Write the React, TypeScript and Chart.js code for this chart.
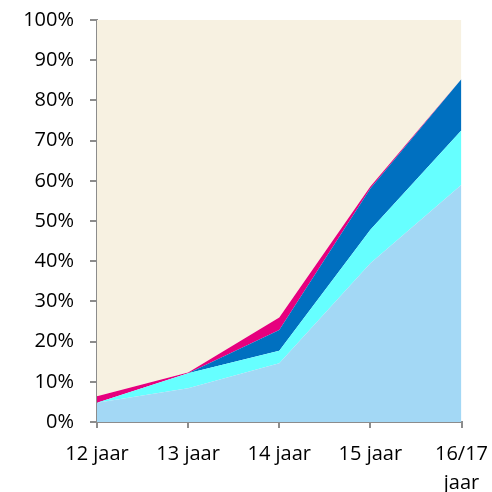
import React, { useEffect, useRef } from "react";
import { Chart, registerables } from "chart.js";

Chart.register(...registerables);

const categories: (string | string[])[] = ["12 jaar", "13 jaar", "14 jaar", "15 jaar", ["16/17", "jaar"]];
const lichtblauw = [4.8, 8.4, 14.6, 39.5, 59.0];
const cyaan = [0.0, 3.7, 3.1, 8.3, 13.6];
const donkerblauw = [0.0, 0.0, 5.2, 10.3, 12.7];
const roze = [1.6, 0.2, 3.1, 0.5, 0.0];
const rest = categories.map((_, i) =>
  +(100 - lichtblauw[i] - cyaan[i] - donkerblauw[i] - roze[i]).toFixed(1)
);
const yTicks = [0, 10, 20, 30, 40, 50, 60, 70, 80, 90, 100];

const seriesColors = ["#A3D8F5", "#66FFFF", "#0070C0", "#E6007E", "#F7F1E1"];

export default function App() {
  const ref = useRef<HTMLCanvasElement | null>(null);
  useEffect(() => {
    if (!ref.current) return;
    const all = [lichtblauw, cyaan, donkerblauw, roze, rest];
    const font = { family: "Open Sans", size: 20, lineHeight: 1.45 };
    const chart = new Chart(ref.current, {
      type: "line",
      data: {
        labels: categories,
        datasets: all.map((d, i) => ({
          data: d,
          backgroundColor: seriesColors[i],
          borderColor: seriesColors[i],
          borderWidth: 0,
          pointRadius: 0,
          fill: i === 0 ? "origin" : "-1",
          tension: 0,
        })),
      },
      options: {
        animation: false,
        responsive: false,
        maintainAspectRatio: false,
        layout: { padding: { top: 20, right: 30.5, bottom: 0, left: 0 } },
        plugins: { legend: { display: false }, tooltip: { enabled: false } },
        scales: {
          x: {
            offset: false,
            grid: { display: true, drawOnChartArea: false, tickLength: 6, color: "#8C8C8C", lineWidth: 2 },
            border: { color: "#8C8C8C", width: 2 },
            ticks: { font, color: "#000", padding: 12, maxRotation: 0, autoSkip: false },
            afterFit: (s: any) => {
              s.height = 70;
              s.paddingLeft = 0;
              s.paddingRight = 0;
            },
          },
          y: {
            stacked: true,
            min: 0,
            max: 100,
            afterBuildTicks: (s: any) => { s.ticks = yTicks.map((v) => ({ value: v })); },
            grid: { display: true, drawOnChartArea: false, tickLength: 7, color: "#8C8C8C", lineWidth: 2 },
            border: { color: "#8C8C8C", width: 2 },
            ticks: { font: { family: "Open Sans", size: 20 }, color: "#000", padding: 16, callback: (v: any) => v + "%" },
            afterFit: (s: any) => {
              s.width = 97;
              s.paddingTop = 0;
              s.paddingBottom = 0;
            },
          },
        },
      },
    });
    return () => chart.destroy();
  }, []);
  return (
    <div style={{ position: "fixed", left: 0, top: 0, width: 492, height: 492, background: "#fff" }}>
      <canvas ref={ref} width={492} height={492} style={{ width: 492, height: 492 }} />
    </div>
  );
}
